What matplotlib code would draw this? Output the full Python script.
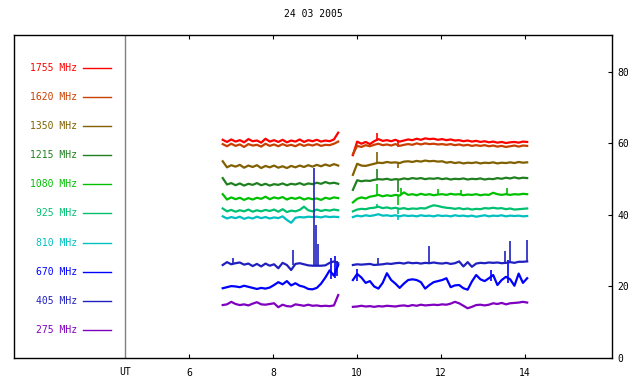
import numpy as np
import matplotlib
matplotlib.use("Agg")
import matplotlib.pyplot as plt

# frequencies (legend order, top to bottom) and their colours
freqs = ["1755", "1620", "1350", "1215", "1080", "925", "810", "670", "405", "275"]
colors = ["#ff0000", "#c84000", "#806000", "#208020", "#00c000",
          "#00c070", "#00c0c0", "#0000ff", "#2020c0", "#8000c0"]

# time grids (UT hours) of the two observing runs
t1 = np.linspace(6.8, 9.55, 28)
t2 = np.linspace(9.9, 14.05, 42)

# first run
s1 = {
    "1755": [61.0, 60.4, 61.1, 60.5, 60.9, 60.3, 61.2, 60.6, 60.8, 60.2, 61.3, 60.5, 60.9, 60.4,
             61.0, 60.3, 60.8, 60.5, 61.1, 60.4, 60.9, 60.6, 61.0, 60.5, 60.8, 60.6, 61.1, 63.0],
    "1620": [59.8, 59.2, 59.9, 59.3, 59.7, 59.0, 59.8, 59.4, 59.6, 59.1, 59.9, 59.3, 59.7, 59.2,
             59.8, 59.3, 59.6, 59.2, 59.8, 59.3, 59.7, 59.4, 59.8, 59.3, 59.6, 59.5, 59.9, 60.5],
    "1350": [55.0, 53.3, 53.9, 53.5, 54.0, 53.2, 53.8, 53.4, 53.9, 53.1, 53.7, 53.3, 53.8, 53.2,
             53.6, 53.1, 53.7, 53.3, 53.8, 53.4, 53.9, 53.5, 54.0, 53.6, 54.1, 53.7, 54.2, 53.8],
    "1215": [50.3, 48.5, 48.9, 48.3, 48.8, 48.2, 48.7, 48.4, 48.9, 48.3, 48.7, 48.2, 48.6, 48.4,
             48.8, 48.3, 48.7, 48.5, 48.9, 48.4, 48.8, 48.6, 49.0, 48.7, 49.2, 48.8, 49.0, 48.7],
    "1080": [45.8, 44.3, 44.9, 44.4, 44.8, 44.2, 44.7, 44.3, 44.8, 44.5, 45.1, 44.4, 44.9, 44.6,
             45.0, 44.3, 44.8, 44.5, 44.9, 44.3, 44.7, 44.4, 44.6, 44.2, 44.8, 44.5, 44.9, 44.7],
    "925": [41.8, 41.0, 41.4, 40.9, 41.3, 41.0, 41.5, 40.9, 41.3, 41.0, 41.4, 41.1, 41.5, 40.9,
            41.6, 40.8, 41.2, 41.0, 41.4, 42.3, 41.3, 41.0, 41.5, 41.1, 41.4, 41.2, 41.5, 41.3],
    "810": [39.6, 39.0, 39.4, 39.1, 39.5, 38.9, 39.3, 39.0, 39.5, 39.1, 39.4, 39.0, 39.3, 39.1,
            39.6, 38.6, 37.8, 39.2, 39.4, 39.3, 39.5, 39.4, 39.5, 39.3, 39.6, 39.4, 39.5, 39.4],
    "670": [19.5, 19.8, 20.1, 20.0, 19.8, 20.2, 19.9, 19.6, 19.3, 19.6, 19.4, 19.7, 20.4, 21.2,
            20.6, 21.5, 20.3, 20.9, 20.2, 19.9, 19.3, 19.2, 19.6, 20.8, 22.5, 24.5, 23.0, 26.0],
    "405": [26.0, 26.8, 26.2, 26.5, 26.7, 26.1, 26.4, 25.7, 26.3, 25.6, 26.4, 25.8, 26.2, 25.1,
            26.6, 26.0, 24.6, 26.3, 26.5, 26.2, 25.9, 25.8, 25.8, 25.8, 25.9, 26.6, 27.0, 26.5],
    "275": [14.8, 15.0, 15.7, 15.1, 14.8, 15.0, 14.7, 15.2, 15.6, 15.0, 14.9, 15.1, 15.3, 14.2,
            14.9, 14.5, 14.4, 15.0, 14.8, 14.6, 14.9, 14.6, 14.7, 14.5, 14.6, 14.5, 14.7, 17.6],
}

# second run
s2 = {
    "1755": [56.7, 60.5, 59.9, 60.4, 59.8, 60.6, 61.2, 60.7, 60.9, 60.6, 61.0, 60.5, 60.8, 61.1,
             60.9, 61.3, 61.0, 61.4, 61.2, 61.3, 61.0, 61.2, 60.9, 61.1, 60.8, 60.9, 60.6, 60.8,
             60.5, 60.7, 60.4, 60.6, 60.3, 60.5, 60.2, 60.4, 60.1, 60.3, 60.4, 60.2, 60.5, 60.4],
    "1620": [57.0, 59.3, 59.0, 59.5, 59.2, 59.6, 59.9, 59.5, 59.7, 59.4, 59.8, 59.3, 59.6, 59.8,
             59.6, 60.0, 59.7, 60.0, 59.8, 59.9, 59.7, 59.8, 59.6, 59.8, 59.5, 59.7, 59.4, 59.6,
             59.3, 59.5, 59.3, 59.5, 59.2, 59.4, 59.1, 59.3, 59.0, 59.2, 59.4, 59.1, 59.4, 59.3],
    "1350": [51.2, 54.3, 53.8, 53.7, 54.0, 54.3, 54.6, 54.5, 54.8, 54.6, 54.7, 54.5, 54.9, 55.0,
             54.8, 55.1, 54.9, 55.2, 55.0, 55.1, 54.9, 55.0, 54.6, 54.8, 54.5, 54.7, 54.4, 54.6,
             54.5, 54.7, 54.4, 54.6, 54.5, 54.7, 54.4, 54.6, 54.5, 54.7, 54.5, 54.8, 54.6, 54.7],
    "1215": [47.0, 49.7, 49.4, 49.6, 49.5, 49.8, 50.0, 49.9, 50.1, 49.8, 50.0, 49.9, 50.2, 50.0,
             50.3, 50.1, 50.3, 50.0, 50.2, 50.1, 50.3, 50.0, 50.2, 49.9, 50.1, 50.0, 50.2, 49.9,
             50.1, 50.0, 50.2, 49.9, 50.1, 50.0, 50.3, 50.1, 50.4, 50.2, 50.5, 50.2, 50.4, 50.3],
    "1080": [43.5, 44.5, 44.9, 44.6, 45.1, 45.3, 45.6, 45.2, 45.5, 45.3, 45.6, 45.4, 46.3, 45.6,
             45.8, 45.5, 45.9, 45.6, 45.8, 45.5, 45.7, 45.8, 45.6, 45.9, 45.7, 45.8, 45.5, 45.7,
             45.6, 45.8, 45.5, 45.7, 45.6, 46.2, 45.8, 45.6, 45.8, 45.6, 45.8, 45.7, 45.9, 45.8],
    "925": [41.0, 41.5, 41.7, 41.6, 41.9, 42.0, 42.3, 41.9, 42.1, 41.8, 42.0, 41.7, 41.9, 41.6,
            41.8, 41.7, 41.9, 41.8, 42.3, 42.7, 42.5, 42.2, 42.0, 41.9, 41.7, 41.9, 41.6, 41.8,
            41.5, 41.7, 41.6, 41.9, 41.8, 42.0, 41.8, 41.9, 41.6, 41.8, 41.5, 41.6, 41.7, 41.8],
    "810": [39.4, 39.8, 39.6, 39.9, 39.7, 39.9, 40.2, 39.8, 39.9, 39.7, 39.9, 39.6, 39.9, 39.7,
            39.8, 39.6, 39.9, 39.7, 39.8, 39.6, 39.9, 39.7, 39.8, 39.6, 39.9, 39.7, 39.8, 39.6,
            39.8, 39.5, 39.7, 39.9, 39.6, 39.8, 39.7, 39.9, 39.6, 39.8, 39.7, 39.8, 39.6, 39.7],
    "670": [21.8, 23.5, 22.5, 21.0, 21.5, 20.0, 19.4, 21.0, 23.7, 21.8, 20.8, 19.6, 20.8, 21.8,
            22.0, 21.8, 21.2, 19.4, 20.4, 21.2, 21.5, 21.8, 22.3, 19.8, 20.3, 20.4, 19.5, 19.1,
            21.4, 23.2, 22.0, 21.5, 22.3, 23.2, 20.4, 21.8, 22.7, 22.0, 20.2, 23.6, 21.0, 22.3],
    "405": [26.0, 26.2, 26.1, 26.2, 26.3, 26.0, 26.1, 26.2, 26.4, 26.3, 26.5, 26.6, 26.4, 26.7,
            26.5, 26.6, 26.4, 26.6, 26.5, 26.7, 26.5, 26.4, 26.6, 26.3, 26.5, 27.0, 25.6, 26.8,
            25.5, 26.4, 26.6, 26.5, 26.7, 26.6, 26.7, 26.5, 26.6, 26.8, 26.6, 26.9, 26.9, 27.0],
    "275": [14.3, 14.4, 14.6, 14.4, 14.5, 14.3, 14.5, 14.4, 14.6, 14.5, 14.4, 14.6, 14.7, 14.5,
            14.8, 14.6, 14.9, 14.7, 14.8, 14.9, 14.8, 15.0, 14.9, 15.2, 15.7, 15.3, 14.6, 13.9,
            14.3, 14.8, 14.9, 14.7, 14.9, 15.3, 15.1, 15.4, 15.0, 15.3, 15.4, 15.5, 15.7, 15.5],
}

# short bursts / dropouts: (time, low, high)
spikes = {
    "1755": [(10.47, 60.6, 62.9), (10.98, 59.1, 60.6)],
    "1350": [(10.47, 54.6, 57.6), (10.98, 53.0, 54.7)],
    "1215": [(10.47, 50.0, 52.8), (10.98, 46.5, 50.0)],
    "1080": [(10.47, 45.3, 48.6), (10.98, 42.8, 45.5), (11.05, 45.5, 47.5),
             (11.92, 45.7, 47.2), (12.47, 45.7, 47.0), (13.57, 45.8, 47.5)],
    "925": [(10.47, 41.9, 43.0), (10.98, 40.3, 41.8)],
    "810": [(10.98, 38.5, 39.7)],
    "670": [(9.38, 22.0, 28.0), (9.47, 22.5, 28.5), (9.52, 23.0, 27.0),
            (10.0, 21.5, 25.0), (13.2, 21.5, 24.5), (13.6, 21.0, 27.4)],
    "405": [(7.05, 26.2, 28.0), (8.48, 26.0, 30.2), (8.98, 25.8, 53.0), (9.03, 25.8, 37.2),
            (9.07, 25.8, 32.0), (10.5, 26.2, 28.0), (11.71, 26.6, 31.3), (13.52, 26.5, 30.0),
            (13.64, 26.6, 32.7), (14.04, 27.0, 33.0)],
}

ut_line = 4.476

plt.rcParams['font.family'] = ['DejaVu Sans Mono']
fig = plt.figure(figsize=(6.4, 3.84), dpi=100)
ax = fig.add_axes([14 / 640, 26 / 384, 598 / 640, 323 / 384])

for f, c in zip(freqs, colors):
    ax.plot(t1, s1[f], color=c, lw=1.6)
    ax.plot(t2, s2[f], color=c, lw=1.6)
    for t, lo, hi in spikes.get(f, []):
        ax.vlines(t, lo, hi, color=c, lw=1.2)

# legend panel on the left
for i, (f, c) in enumerate(zip(freqs, colors)):
    y = 81.0 - 8.12 * i
    ax.text(3.33, y, f + " MHz", color=c, fontsize=7, ha='right', va='center')
    ax.plot([3.48, 4.14], [y, y], color=c, lw=1)

ax.axvline(ut_line, color='#808080', lw=1)
ax.text(ut_line, -2.6, "UT", fontsize=7, ha='center', va='top')

ax.set_xlim(1.83, 16.07)
ax.set_ylim(0, 90.3)
ax.set_xticks([6, 8, 10, 12, 14])
ax.set_yticks([0, 20, 40, 60, 80])
ax.yaxis.tick_right()
ax.tick_params(axis='x', direction='in', length=3, labelsize=7, top=True, pad=7)
ax.tick_params(axis='y', direction='in', length=3, labelsize=7, pad=4)
for sp in ax.spines.values():
    sp.set_linewidth(1)
ax.set_title("24 03 2005", fontsize=7, pad=13)

fig.savefig("out.png", dpi=100)
